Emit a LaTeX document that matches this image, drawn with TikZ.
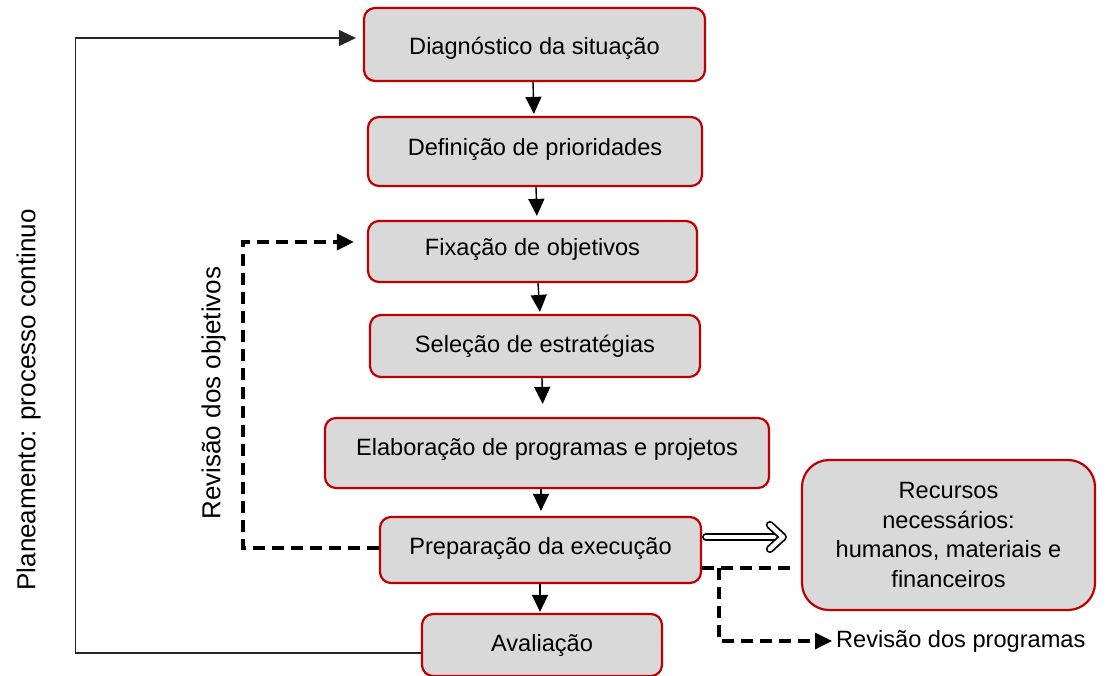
\documentclass[tikz,border=0pt]{standalone}
\usepackage{fontspec}
\setmainfont{Liberation Sans}
\usetikzlibrary{arrows.meta}
\definecolor{boxred}{HTML}{C00000}
\definecolor{boxfill}{HTML}{D9D9D9}
\begin{document}
\begin{tikzpicture}[x=1pt,y=-1pt,
  boxbase/.style={draw=boxred, fill=boxfill, line width=2.2pt, rounded corners=11pt,
    font=\fontsize{23.6}{29.5}\selectfont, inner sep=0pt},
  box/.style={boxbase, text height=17pt, text depth=0pt},
  tip/.style={-{Triangle[length=17pt,width=16pt]}},
  arr/.style={line width=1.4pt, tip},
  frame/.style={line width=1.4pt, draw=black!85, line join=miter},
  dashln/.style={line width=3.4pt, dash pattern=on 12pt off 7pt, line join=miter},
  dsh/.style={dashln, tip},
  dbl/.style={line width=1.8pt, double distance=4.5pt, line cap=round, line join=round},
  lbl/.style={inner sep=0pt, font=\fontsize{23.6}{28}\selectfont, text height=17pt, text depth=5pt},
  rlbl/.style={rotate=90, inner sep=0pt, font=\fontsize{26}{30}\selectfont, text height=18.6pt, text depth=0pt}
]
\useasboundingbox (0,0) rectangle (1106,675);

% boxes
\node[box, minimum width=341pt, minimum height=73pt, text height=19pt] (d1) at (534.5,44.5) {Diagnóstico da situação};
\node[box, minimum width=334pt, minimum height=69pt, text depth=9pt] (d2) at (535,151.5) {Definição de prioridades};
\node[box, minimum width=329pt, minimum height=61pt, text depth=9pt] (fx) at (532.5,251.5) {Fixação de objetivos};
\node[box, minimum width=330pt, minimum height=62pt, text depth=4pt] (se) at (535,346) {Seleção de estratégias};
\node[box, minimum width=444pt, minimum height=70pt, text depth=13pt] (el) at (547,453) {Elaboração de programas e projetos};
\node[box, minimum width=321pt, minimum height=66pt, text depth=8pt] (pr) at (540.5,550) {Preparação da execução};
\node[box, minimum width=240pt, minimum height=62pt, text depth=4pt] (av) at (542,645) {Avaliação};
\node[boxbase, rounded corners=27pt, align=center, minimum width=293pt, minimum height=150pt] (rc) at (948.5,535)
  {Recursos\\necessários:\\humanos, materiais e\\financeiros};

% labels
\node[rlbl] (pl) at (26,400) {Planeamento: processo continuo};
\node[rlbl] (ro) at (211,393) {Revisão dos objetivos};
\node[lbl, anchor=west] (rp) at (836,641) {Revisão dos programas};

% main flow arrows
\draw[arr, shorten >=2pt] ([xshift=-1.5pt]d1.south) -- ([xshift=-1pt]d2.north);
\draw[arr, shorten >=4pt] ([xshift=1pt]d2.south) -- ([xshift=4.5pt]fx.north);
\draw[arr, shorten >=2pt] ([xshift=5.5pt]fx.south) -- ([xshift=5pt]se.north);
\draw[arr, shorten >=13pt] ([xshift=7pt]se.south) -- ([xshift=-4pt]el.north);
\draw[arr, shorten >=5pt] ([xshift=-6pt]el.south) -- ([xshift=0.5pt]pr.north);
\draw[arr, shorten >=1pt] ([xshift=-0.5pt]pr.south) -- ([xshift=-2pt]av.north);

% continuous planning loop
\draw[frame, tip, shorten >=7pt] ([yshift=-8pt]av.west) -- (75.5,653) -- (75.5,38) -- ([yshift=6.5pt]d1.west);

% revision of objectives (dashed)
\draw[dsh, shorten >=13pt] ([yshift=2pt]pr.west) -- (243,548) -- (243,242) -- ([yshift=9.5pt]fx.west);

% resources double (hollow) arrow
\coordinate (dtip) at ([yshift=-2pt, xshift=-18pt]rc.west);
\draw[dbl, shorten >=3pt] ([yshift=13pt,xshift=4pt]pr.east) -- (dtip);
\draw[dbl] ([xshift=-13pt,yshift=12pt]dtip) -- (dtip) -- ([xshift=-13pt,yshift=-12pt]dtip);

% dashed link to resources and revision of programmes
\draw[dashln, shorten >=5pt] ([yshift=-18pt]pr.east) -- ([yshift=-33pt]rc.west);
\coordinate (br) at (719,568);
\draw[dsh, shorten >=4pt] (br) -- (719,641) -- (rp.west);
\end{tikzpicture}
\end{document}
